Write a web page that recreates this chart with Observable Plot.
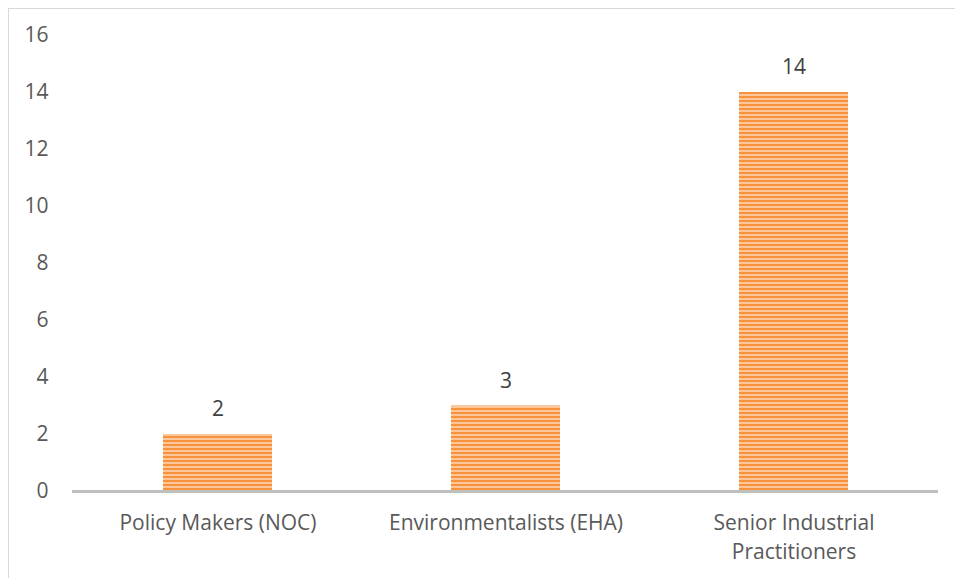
<!DOCTYPE html>
<html>
<head>
<meta charset="utf-8">
<script src="https://cdn.jsdelivr.net/npm/d3@7"></script>
<script src="https://cdn.jsdelivr.net/npm/@observablehq/plot@0.6"></script>
<style>
  html, body { margin: 0; padding: 0; background: #fff; }
  #frame { position: absolute; left: 8px; top: 8px; width: 960px; height: 600px;
           border-left: 1px solid #d9d9d9; border-top: 1px solid #d9d9d9; box-sizing: border-box; }
  #chart { position: absolute; left: 0; top: 0; }
</style>
</head>
<body>
<div id="frame"></div>
<div id="chart"></div>
<script>
const categories = ["Policy Makers (NOC)", "Environmentalists (EHA)", "Senior Industrial Practitioners"];
const values = [2, 3, 14];
const yTicks = [0, 2, 4, 6, 8, 10, 12, 14, 16];

const data = categories.map((c, i) => ({category: c, value: values[i]}));
const font = "'Open Sans', sans-serif";

const plot = Plot.plot({
  width: 955,
  height: 578,
  marginLeft: 72,
  marginRight: 17,
  marginTop: 35,
  marginBottom: 87,
  style: {fontFamily: font, fontSize: "21px", color: "#595959", background: "transparent"},
  x: {domain: categories, paddingInner: 0.623, paddingOuter: 0.311, label: null},
  y: {domain: [0, 16], label: null},
  marks: [
    Plot.axisY({ticks: yTicks, tickSize: 0, tickPadding: 24, fontSize: 21, fill: "#595959", label: null}),
    Plot.axisX({tickSize: 0, tickPadding: 18, fontSize: 21, fill: "#595959", lineHeight: 1.38, label: null,
      tickFormat: d => d === "Senior Industrial Practitioners" ? "Senior Industrial\nPractitioners" : d}),
    Plot.barY(data, {x: "category", y: "value", fill: "url(#stripes)"}),
    Plot.ruleY([0], {stroke: "#bfbfbf", strokeWidth: 3}),
    Plot.text(data, {x: "category", y: "value", text: d => String(d.value), dy: -25, fontSize: 21, fill: "#404040"})
  ]
});

const svg = d3.select(plot);
const defs = svg.insert("defs", ":first-child");
const pat = defs.append("pattern").attr("id", "stripes").attr("patternUnits", "userSpaceOnUse")
  .attr("width", 8).attr("height", 4);
pat.append("rect").attr("width", 8).attr("height", 4).attr("fill", "#fcc89b");
pat.append("rect").attr("y", 0).attr("width", 8).attr("height", 2).attr("fill", "#f7923f");

document.getElementById("chart").appendChild(plot);
</script>
</body>
</html>
